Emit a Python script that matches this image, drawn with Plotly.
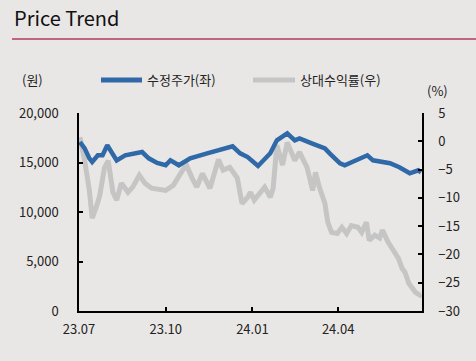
import plotly.graph_objects as go

# ---- data ----
price_dates = ["2023-07-02","2023-07-07","2023-07-12","2023-07-15","2023-07-21","2023-07-26","2023-07-31",
               "2023-08-05","2023-08-10","2023-08-19","2023-08-30","2023-09-06","2023-09-13","2023-09-22",
               "2023-10-01","2023-10-06","2023-10-15","2023-10-27","2023-11-14","2023-11-26","2023-12-11",
               "2023-12-19","2023-12-27","2024-01-07","2024-01-20","2024-01-27","2024-02-02","2024-02-07",
               "2024-02-15","2024-02-20","2024-03-04","2024-03-18","2024-03-23","2024-04-03","2024-04-08",
               "2024-05-02","2024-05-08","2024-05-26","2024-06-05","2024-06-16","2024-06-25","2024-06-28"]
price_values = [17070,16430,15420,15050,15730,15730,16740,
                15930,15220,15730,15930,16060,15420,14950,
                14720,15220,14720,15420,15930,16230,16630,
                15930,15550,14650,15930,17240,17650,17950,
                17240,17440,16940,16430,15930,14920,14720,
                15730,15220,14920,14520,13910,14210,14010]

rel_dates = ["2023-07-02","2023-07-07","2023-07-12","2023-07-15","2023-07-20","2023-07-23","2023-07-28",
             "2023-08-01","2023-08-06","2023-08-10","2023-08-15","2023-08-22","2023-08-27","2023-09-03",
             "2023-09-09","2023-09-16","2023-10-01","2023-10-09","2023-10-19","2023-10-23","2023-10-29",
             "2023-11-03","2023-11-09","2023-11-17","2023-11-26","2023-12-01","2023-12-08","2023-12-16",
             "2023-12-21","2023-12-27","2023-12-30","2024-01-03","2024-01-14","2024-01-20","2024-01-23",
             "2024-01-27","2024-02-02","2024-02-07","2024-02-15","2024-02-20","2024-02-28","2024-03-05",
             "2024-03-08","2024-03-12","2024-03-18","2024-03-21","2024-03-25","2024-03-31","2024-04-05",
             "2024-04-10","2024-04-15","2024-04-22","2024-04-26","2024-05-01","2024-05-04","2024-05-10",
             "2024-05-15","2024-05-18","2024-05-24","2024-05-29","2024-06-04","2024-06-08","2024-06-11",
             "2024-06-15","2024-06-19","2024-06-22","2024-06-27","2024-06-28"]
rel_values = [0.7,-3.4,-8.7,-13.6,-11.3,-9.6,-4.7,
              -3.4,-9.0,-10.4,-7.4,-9.0,-8.1,-6.0,
              -7.4,-8.3,-8.7,-7.8,-5.1,-4.2,-6.5,
              -8.1,-5.7,-8.3,-3.2,-5.1,-4.6,-6.5,
              -11.0,-9.9,-9.0,-10.4,-8.1,-9.9,-8.3,
              -0.7,-4.2,-0.2,-3.4,-1.9,-4.6,-8.7,
              -5.5,-8.1,-11.0,-14.3,-16.1,-16.3,-15.2,
              -16.3,-14.9,-15.2,-16.1,-14.3,-17.5,-16.6,
              -17.1,-15.7,-17.8,-19.3,-20.7,-22.5,-23.2,
              -25.1,-26.0,-26.7,-27.2,-27.0]

x_tickvals = ["2023-07-01","2023-10-01","2024-01-01","2024-04-01"]
x_ticktext = ["23.07","23.10","24.01","24.04"]
left_ticks = [0, 5000, 10000, 15000, 20000]
right_ticks = [5, 0, -5, -10, -15, -20, -25, -30]

series_names = ["수정주가(좌)", "상대수익률(우)"]

BLUE = "#2f69a8"
GRAY = "#c5c5c5"
BG = "#e9e7e5"
FONT = "Noto Sans CJK KR"

fig = go.Figure()
fig.add_trace(go.Scatter(x=rel_dates, y=rel_values, mode="lines", name=series_names[1],
                         line=dict(color=GRAY, width=5), yaxis="y", showlegend=False))
fig.add_trace(go.Scatter(x=price_dates, y=price_values, mode="lines", name=series_names[0],
                         line=dict(color=BLUE, width=4.5), yaxis="y2", showlegend=False))

axis_common = dict(showline=True, linecolor="black", linewidth=1.5, ticks="inside",
                   ticklen=4, tickcolor="black", tickwidth=1.5, showgrid=False, zeroline=False,
                   tickfont=dict(family=FONT, size=13, color="#222"))

fig.update_layout(
    width=476, height=361,
    paper_bgcolor=BG, plot_bgcolor=BG,
    margin=dict(l=79, r=54, t=113, b=50),
    font=dict(family=FONT, color="#222"),
    xaxis=dict(range=["2023-07-01", "2024-06-29"], tickvals=x_tickvals, ticktext=x_ticktext,
               ticklabelstandoff=6, **axis_common),
    yaxis=dict(side="right", range=[-30, 5], tickvals=right_ticks, ticklabelstandoff=12,
               **axis_common),
    yaxis2=dict(side="left", overlaying="y", range=[0, 20000], tickvals=left_ticks,
                tickformat=",", ticklabelstandoff=16, **axis_common),
    showlegend=False,
)

PW, PH = 343, 198
def px(x):
    return (x - 79) / PW
def py(y):
    return (311 - y) / PH

# title and header rule
fig.add_annotation(xref="paper", yref="paper", x=px(12), y=py(18), xanchor="left", yanchor="middle",
                   text="Price Trend", showarrow=False, font=dict(family=FONT, size=20, color="#111"))
fig.add_shape(type="line", xref="paper", yref="paper", x0=px(12), x1=px(476),
              y0=py(39), y1=py(39), line=dict(color="#c2647d", width=2))

# unit labels
fig.add_annotation(xref="paper", yref="paper", x=px(32), y=py(80), xanchor="center", yanchor="middle",
                   text="(원)", showarrow=False, font=dict(family=FONT, size=13, color="#222"))
fig.add_annotation(xref="paper", yref="paper", x=px(437), y=py(91), xanchor="center", yanchor="middle",
                   text="(%)", showarrow=False, font=dict(family=FONT, size=13, color="#222"))

# legend (manual)
for (x0, x1, tx, col, name) in [(101, 142, 145, BLUE, series_names[0]), (253, 295, 298, GRAY, series_names[1])]:
    fig.add_shape(type="line", xref="paper", yref="paper", x0=px(x0), x1=px(x1),
                  y0=py(80), y1=py(80), line=dict(color=col, width=5))
    fig.add_annotation(xref="paper", yref="paper", x=px(tx), y=py(80), xanchor="left", yanchor="middle",
                       text=name, showarrow=False, font=dict(family=FONT, size=13, color="#222"))

fig.write_html("out.html", config={"displayModeBar": False},
               post_script="document.body.style.margin='0';document.body.style.background='%s';" % BG)
